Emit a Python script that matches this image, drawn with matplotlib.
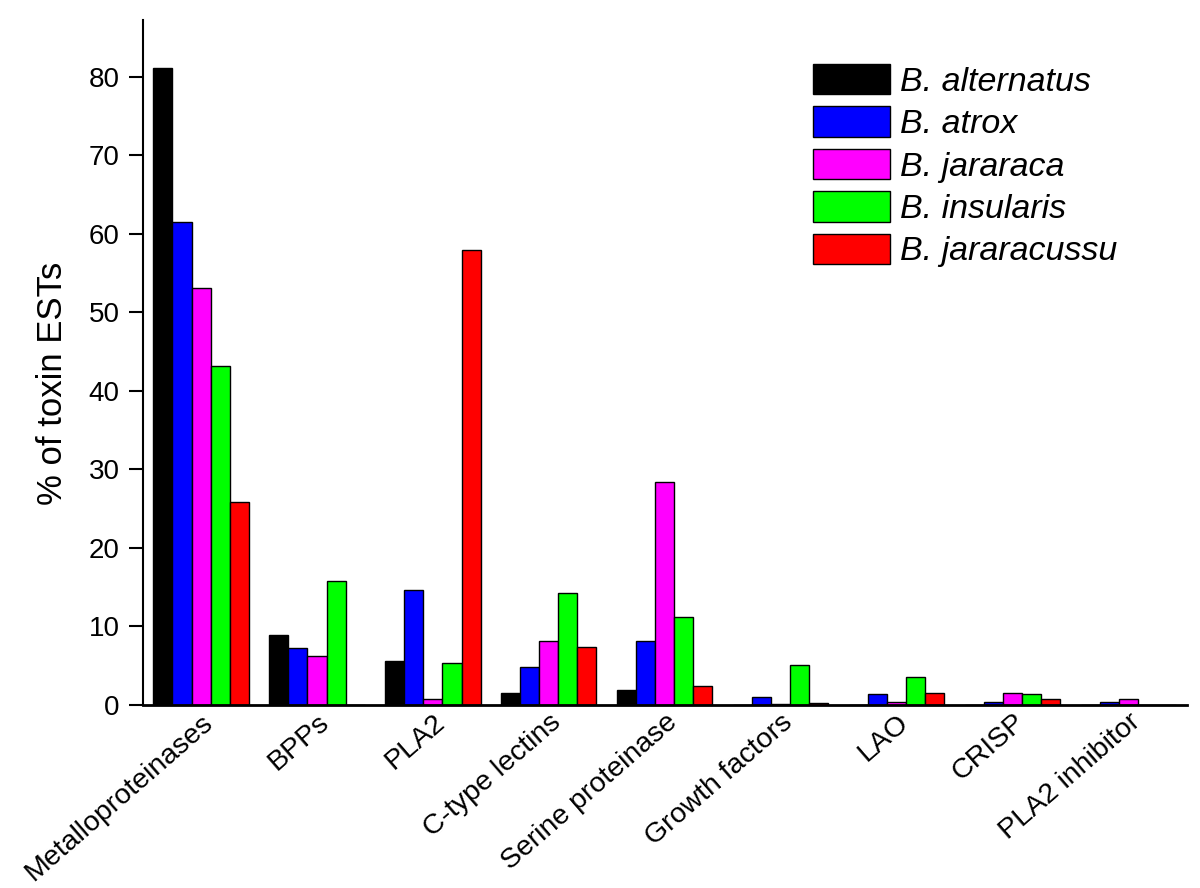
import numpy as np
import matplotlib
matplotlib.use("Agg")
import matplotlib.pyplot as plt

plt.rcParams['font.family'] = ['Liberation Sans', 'DejaVu Sans']

categories = ["Metalloproteinases", "BPPs", "PLA2", "C-type lectins", "Serine proteinase",
              "Growth factors", "LAO", "CRISP", "PLA2 inhibitor"]
species = ["B. alternatus", "B. atrox", "B. jararaca", "B. insularis", "B. jararacussu"]
alternatus = [81.1, 8.9, 5.6, 1.5, 1.9, 0.0, 0.0, 0.0, 0.0]
atrox = [61.5, 7.2, 14.6, 4.8, 8.2, 1.0, 1.4, 0.4, 0.4]
jararaca = [53.1, 6.2, 0.7, 8.2, 28.4, 0.1, 0.4, 1.5, 0.8]
insularis = [43.1, 15.8, 5.4, 14.2, 11.2, 5.1, 3.5, 1.4, 0.0]
jararacussu = [25.9, 0.0, 57.9, 7.4, 2.4, 0.2, 1.5, 0.8, 0.0]
yticks = [0, 10, 20, 30, 40, 50, 60, 70, 80]

series = [alternatus, atrox, jararaca, insularis, jararacussu]
colors = ["#000000", "#0000FF", "#FF00FF", "#00FF00", "#FF0000"]

fig = plt.figure(figsize=(12, 8.88), dpi=100)
ax = fig.add_axes([0.1192, 0.2061, 0.8698, 0.7714])

x = np.arange(len(categories))
w = 0.164
for i, (vals, c, lab) in enumerate(zip(series, colors, species)):
    ax.bar(x + (i - 2) * w, vals, width=w, color=c, edgecolor="black",
           linewidth=1.0, label=lab)

ax.set_xlim(-0.5, 8.5)
ax.set_ylim(0, 87.2)
ax.set_yticks(yticks)
ax.set_yticklabels([str(t) for t in yticks], fontsize=20)
ax.set_xticks(x)
ax.set_xticklabels(categories, rotation=41, ha="right", va="top",
                   rotation_mode="anchor", fontsize=20.5)
ax.tick_params(axis="x", length=0, pad=3)
ax.tick_params(axis="y", direction="out", length=10, width=1.5, pad=7)
ax.spines["top"].set_visible(False)
ax.spines["right"].set_visible(False)
ax.spines["left"].set_linewidth(1.5)
ax.spines["bottom"].set_linewidth(2.0)
ax.set_ylabel("% of toxin ESTs", fontsize=25)
ax.yaxis.set_label_coords(-0.0709, 0.469)

leg = ax.legend(loc="upper left", bbox_to_anchor=(813 / 1200, 1 - 64 / 888),
                bbox_transform=fig.transFigure, frameon=False,
                prop={"size": 24.5, "style": "italic"},
                handlelength=2.25, handleheight=1.0, handletextpad=0.3,
                labelspacing=0.25, borderpad=0, borderaxespad=0)

fig.savefig("out.png", dpi=100)
